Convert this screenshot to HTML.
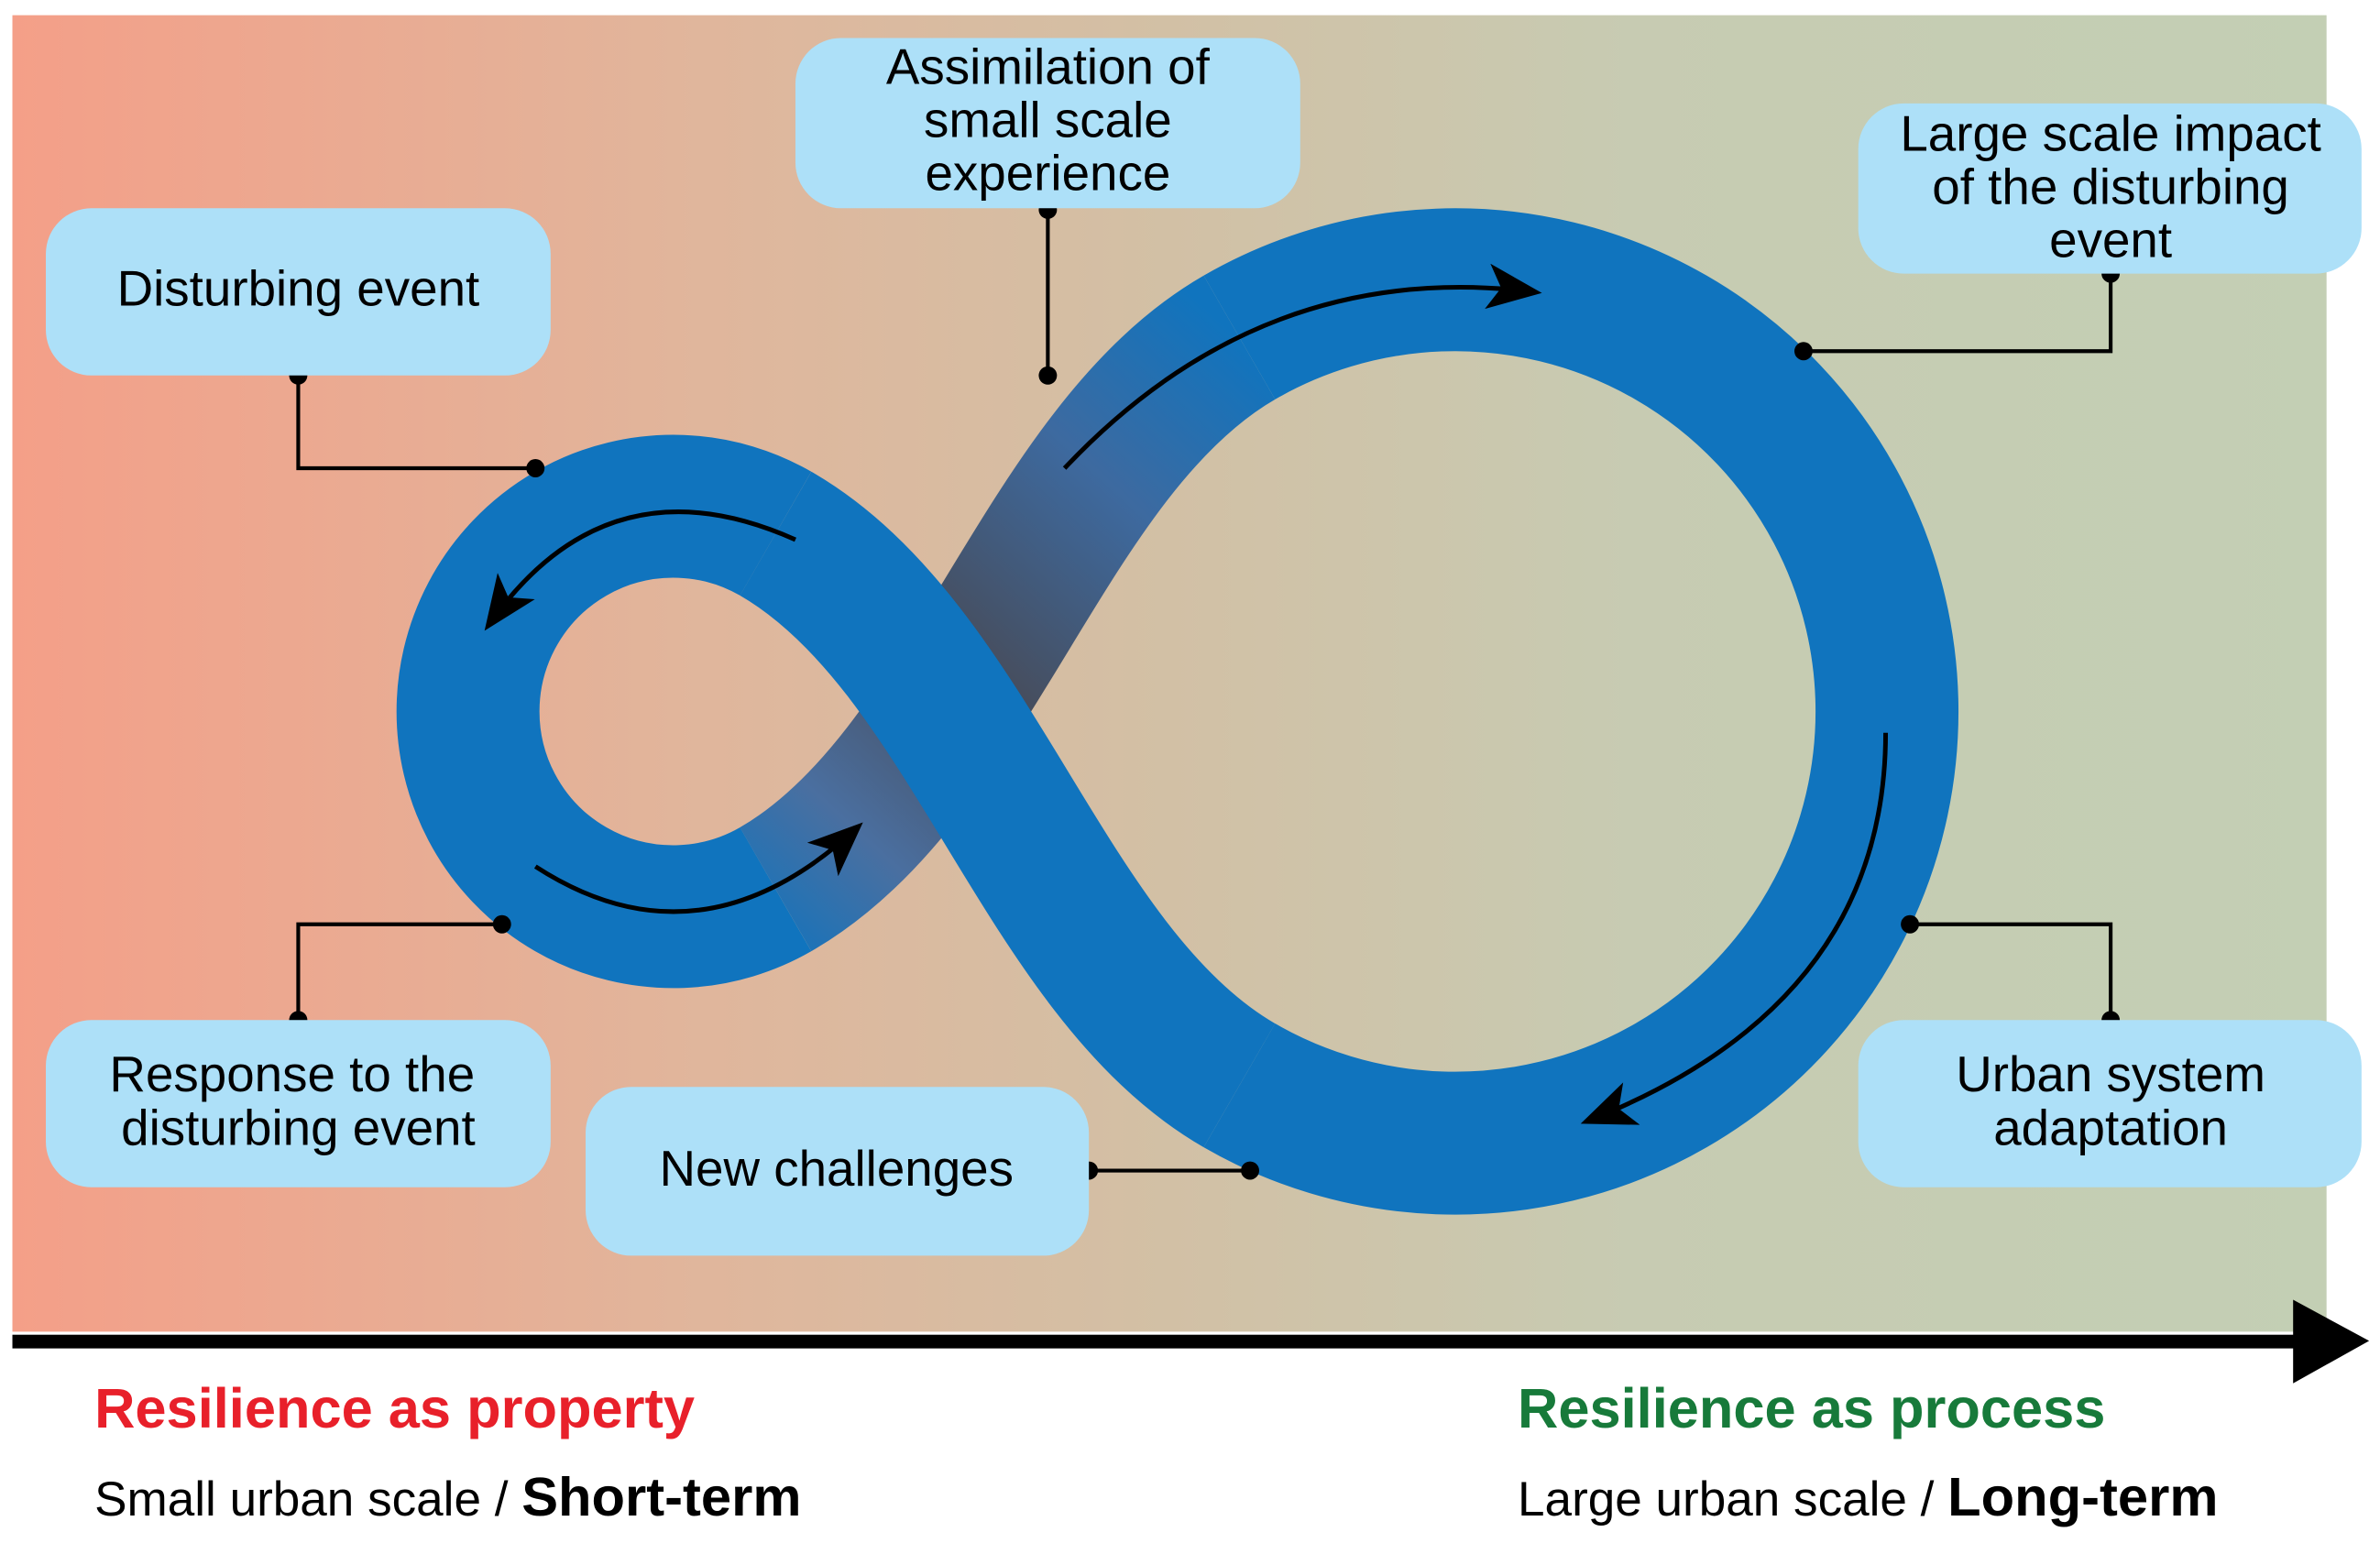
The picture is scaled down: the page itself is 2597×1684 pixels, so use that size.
<!DOCTYPE html>
<html><head><meta charset="utf-8"><style>
html,body{margin:0;padding:0;background:#fff;}
svg{display:block;}
text{font-family:"Liberation Sans",Arial,sans-serif;}
</style></head><body>
<svg width="2597" height="1684" viewBox="0 0 1565 1015" xmlns="http://www.w3.org/2000/svg">
<defs>
<linearGradient id="bg" x1="0" y1="0" x2="1" y2="0">
<stop offset="0" stop-color="#f49f88"/>
<stop offset="0.3" stop-color="#e0b69c"/>
<stop offset="0.5" stop-color="#d2c0a5"/>
<stop offset="0.7" stop-color="#c7cbb2"/>
<stop offset="1" stop-color="#c3cfb4"/>
</linearGradient>
<linearGradient id="cross" gradientUnits="userSpaceOnUse" x1="470" y1="600" x2="815" y2="222">
<stop offset="0" stop-color="#1074be"/>
<stop offset="0.2" stop-color="#4a6fa0"/>
<stop offset="0.45" stop-color="#474c5a"/>
<stop offset="0.75" stop-color="#3d6aa0"/>
<stop offset="1" stop-color="#1074be"/>
</linearGradient>
<marker id="ah" viewBox="0 0 10 10" refX="8" refY="5" markerWidth="7" markerHeight="7" orient="auto" markerUnits="userSpaceOnUse">
</marker>
<marker id="arr" viewBox="0 0 12 10" refX="10" refY="5" markerWidth="36" markerHeight="30" orient="auto" markerUnits="userSpaceOnUse">
<path d="M0,0 L12,5 L0,10 L3,5 Z" fill="#000"/>
</marker>
</defs>
<rect x="8" y="10" width="1522" height="866" fill="url(#bg)"/>

<!-- rings -->
<g fill="none" stroke="#1074be" stroke-width="94">
<path d="M510,351 A135,135 0 1 0 510,585"/>
<path d="M815,222 A284,284 0 1 1 815,714"/>
</g>
<path d="M510,585 C640,510 685,297 815,222" fill="none" stroke="url(#cross)" stroke-width="94"/>
<path d="M510,351 C640,426 685,639 815,714" fill="none" stroke="#1074be" stroke-width="94"/>

<!-- flow arrows -->
<g fill="none" stroke="#000" stroke-width="3">
<path d="M523,355 Q400,300 322,410" marker-end="url(#arr)"/>
<path d="M352,570 Q460,640 563,545" marker-end="url(#arr)"/>
<path d="M700,308 Q830,170 1008,192" marker-end="url(#arr)"/>
<path d="M1240,482 Q1240,660 1045,737" marker-end="url(#arr)"/>
</g>

<!-- connectors -->
<g fill="none" stroke="#000" stroke-width="2.5">
<path d="M196,247 V308 H352"/>
<path d="M689,138 V247"/>
<path d="M1388,180 V231 H1186"/>
<path d="M196,671 V608 H330"/>
<path d="M1388,671 V608 H1256"/>
<path d="M716,770 H822"/>
</g>
<g fill="#000">
<circle cx="196" cy="247" r="6"/><circle cx="352" cy="308" r="6"/>
<circle cx="689" cy="138" r="6"/><circle cx="689" cy="247" r="6"/>
<circle cx="1388" cy="180" r="6"/><circle cx="1186" cy="231" r="6"/>
<circle cx="196" cy="671" r="6"/><circle cx="330" cy="608" r="6"/>
<circle cx="1388" cy="671" r="6"/><circle cx="1256" cy="608" r="6"/>
<circle cx="716" cy="770" r="6"/><circle cx="822" cy="770" r="6"/>
</g>

<!-- boxes -->
<g fill="#ade0f8">
<rect x="30" y="137" width="332" height="110" rx="30"/>
<rect x="523" y="25" width="332" height="112" rx="30"/>
<rect x="1222" y="68" width="331" height="112" rx="30"/>
<rect x="30" y="671" width="332" height="110" rx="30"/>
<rect x="385" y="715" width="331" height="111" rx="30"/>
<rect x="1222" y="671" width="331" height="110" rx="30"/>
</g>
<g font-size="33" fill="#000" text-anchor="middle">
<text x="196" y="201">Disturbing event</text>
<text x="689" y="55">Assimilation of</text>
<text x="689" y="90">small scale</text>
<text x="689" y="125">experience</text>
<text x="1388" y="99">Large scale impact</text>
<text x="1388" y="134">of the disturbing</text>
<text x="1388" y="169">event</text>
<text x="192" y="718">Response to the</text>
<text x="196" y="753">disturbing event</text>
<text x="550" y="780">New challenges</text>
<text x="1388" y="718">Urban system</text>
<text x="1388" y="753">adaptation</text>
</g>

<!-- axis -->
<rect x="8" y="878" width="1506" height="9" fill="#000"/>
<path d="M1508,855 L1558,882 L1508,910 Z" fill="#000"/>

<text x="62" y="939" font-size="37" font-weight="bold" fill="#e8202a">Resilience as property</text>
<text x="62" y="997" font-size="32" fill="#000">Small urban scale / <tspan font-weight="bold" font-size="36">Short-term</tspan></text>
<text x="998" y="939" font-size="37" font-weight="bold" fill="#177a3a">Resilience as process</text>
<text x="998" y="997" font-size="32" fill="#000">Large urban scale / <tspan font-weight="bold" font-size="36">Long-term</tspan></text>
</svg>
</body></html>
